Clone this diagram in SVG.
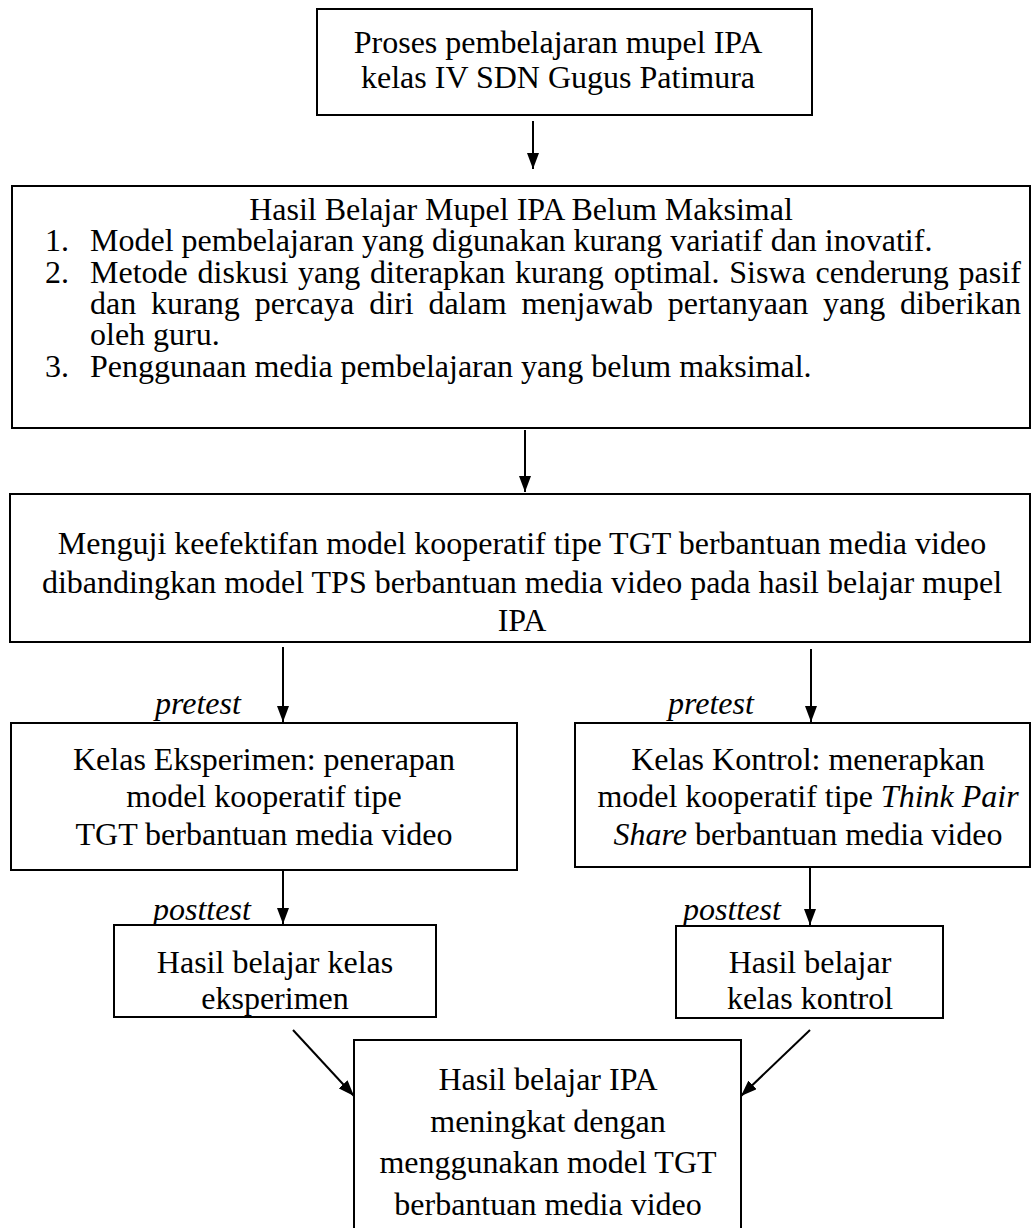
<svg xmlns="http://www.w3.org/2000/svg" width="1033" height="1228" viewBox="0 0 1033 1228">
<style>
.box{fill:#fff;stroke:#000;stroke-width:2}
.t{font-family:"Liberation Serif","Times New Roman",serif;font-size:32px;fill:#000}
.c{text-anchor:middle}
.i{font-style:italic}
.ln{stroke:#000;stroke-width:2;fill:none;marker-end:url(#ah)}
</style>
<defs>
<marker id="ah" markerUnits="userSpaceOnUse" markerWidth="16" markerHeight="12" refX="16" refY="6" orient="auto">
<path d="M0,0 L16,6 L0,12 z" fill="#000"/>
</marker>
</defs>
<rect width="1033" height="1228" fill="#fff"/>
<g id="connectors">
<line class="ln" x1="533" y1="121" x2="533" y2="169"/>
<line class="ln" x1="525" y1="430" x2="525" y2="492"/>
<line class="ln" x1="283" y1="647" x2="283" y2="722"/>
<line class="ln" x1="811" y1="649" x2="811" y2="722"/>
<line class="ln" x1="283" y1="871" x2="283" y2="924"/>
<line class="ln" x1="810" y1="868" x2="810" y2="925"/>
<line class="ln" x1="293" y1="1030" x2="354" y2="1096"/>
<line class="ln" x1="810" y1="1030" x2="741" y2="1096"/>
</g>
<g id="n1">
<rect class="box" x="317" y="9" width="495" height="106"/>
<text class="t c" x="558" y="53">Proses pembelajaran mupel IPA</text>
<text class="t c" x="558" y="88">kelas IV SDN Gugus Patimura</text>
</g>
<g id="n2">
<rect class="box" x="12" y="186" width="1018" height="242"/>
<text class="t c" x="521" y="220">Hasil Belajar Mupel IPA Belum Maksimal</text>
<text class="t" x="45" y="251">1.</text>
<text class="t" x="90" y="251">Model pembelajaran yang digunakan kurang variatif dan inovatif.</text>
<text class="t" x="45" y="283">2.</text>
<text class="t" y="283"><tspan x="90">Metode</tspan><tspan x="197.6">diskusi</tspan><tspan x="298.1">yang</tspan><tspan x="370.1">diterapkan</tspan><tspan x="515">kurang</tspan><tspan x="613.7">optimal.</tspan><tspan x="729.3">Siswa</tspan><tspan x="815.5">cenderung</tspan><tspan x="958.6">pasif</tspan></text>
<text class="t" y="314"><tspan x="90">dan</tspan><tspan x="151">kurang</tspan><tspan x="254.8">percaya</tspan><tspan x="369.2">diri</tspan><tspan x="428.4">dalam</tspan><tspan x="521.5">menjawab</tspan><tspan x="667.8">pertanyaan</tspan><tspan x="823">yang</tspan><tspan x="900.1">diberikan</tspan></text>
<text class="t" x="90" y="345">oleh guru.</text>
<text class="t" x="45" y="377">3.</text>
<text class="t" x="90" y="377">Penggunaan media pembelajaran yang belum maksimal.</text>
</g>
<g id="n3">
<rect class="box" x="10" y="494" width="1020" height="148"/>
<text class="t c" x="522" y="554">Menguji keefektifan model kooperatif tipe TGT berbantuan media video</text>
<text class="t c" x="522" y="593">dibandingkan model TPS berbantuan media video pada hasil belajar mupel</text>
<text class="t c" x="522" y="631">IPA</text>
</g>
<text class="t i" x="155" y="714">pretest</text>
<text class="t i" x="668" y="714">pretest</text>
<g id="n4">
<rect class="box" x="11" y="723" width="506" height="147"/>
<text class="t c" x="264" y="770">Kelas Eksperimen: penerapan</text>
<text class="t c" x="264" y="807">model kooperatif tipe</text>
<text class="t c" x="264" y="845">TGT berbantuan media video</text>
</g>
<g id="n5">
<rect class="box" x="575" y="723" width="455" height="144"/>
<text class="t c" x="808" y="770">Kelas Kontrol: menerapkan</text>
<text class="t c" x="808" y="807">model kooperatif tipe <tspan class="i">Think Pair</tspan></text>
<text class="t c" x="808" y="845"><tspan class="i">Share</tspan> berbantuan media video</text>
</g>
<text class="t i" x="153" y="920">posttest</text>
<text class="t i" x="683" y="920">posttest</text>
<g id="n6">
<rect class="box" x="114" y="925" width="322" height="92"/>
<text class="t c" x="275" y="973">Hasil belajar kelas</text>
<text class="t c" x="275" y="1009">eksperimen</text>
</g>
<g id="n7">
<rect class="box" x="676" y="926" width="267" height="92"/>
<text class="t c" x="810" y="973">Hasil belajar</text>
<text class="t c" x="810" y="1009">kelas kontrol</text>
</g>
<g id="n8">
<rect class="box" x="354" y="1040" width="387" height="200"/>
<text class="t c" x="548" y="1090">Hasil belajar IPA</text>
<text class="t c" x="548" y="1132">meningkat dengan</text>
<text class="t c" x="548" y="1173">menggunakan model TGT</text>
<text class="t c" x="548" y="1215">berbantuan media video</text>
</g>
</svg>
